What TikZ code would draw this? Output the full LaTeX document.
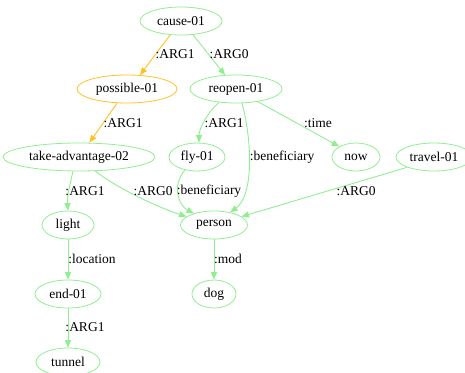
\documentclass[tikz,border=0pt]{standalone}
\usepackage{fontspec}
\setmainfont{Liberation Serif}
\usetikzlibrary{shapes.geometric,arrows.meta}
\definecolor{edgegreen}{HTML}{90EE90}
\definecolor{edgegold}{HTML}{FFC125}
\begin{document}
\begin{tikzpicture}[x=1pt,y=1pt,
  every node/.style={font=\fontsize{13.5}{16}\selectfont},
  concept/.style={ellipse,draw=edgegreen,line width=0.8pt,inner sep=0pt,minimum height=28pt},
  focus/.style={concept,draw=edgegold},
  rel/.style={draw=edgegreen,line width=0.9pt,-{Triangle[length=7.5pt,width=6pt]}},
  relgold/.style={rel,draw=edgegold},
  lbl/.style={inner sep=0pt}]
\useasboundingbox (0,0) rectangle (465,-372);

% concepts
\node[concept,minimum width=82pt]  (cause)    at (181,-21)  {cause-01};
\node[focus,minimum width=100pt]   (possible) at (127,-89)  {possible-01};
\node[concept,minimum width=92pt]  (reopen)   at (236,-89)  {reopen-01};
\node[concept,minimum width=152pt] (takeadv)  at (79,-157)  {take-advantage-02};
\node[concept,minimum width=56pt]  (fly)      at (197,-157) {fly-01};
\node[concept,minimum width=48pt]  (now)      at (356,-157) {now};
\node[concept,minimum width=76pt]  (travel)   at (434,-157) {travel-01};
\node[concept,minimum width=52pt]  (light)    at (68,-225)  {light};
\node[concept,minimum width=67pt]  (person)   at (214,-225) {person};
\node[concept,minimum width=66pt]  (end)      at (68,-294)  {end-01};
\node[concept,minimum width=44pt]  (dog)      at (214,-294) {dog};
\node[concept,minimum width=64pt]  (tunnel)   at (68,-362)  {tunnel};

% relations
\draw[relgold] (cause.232) -- (possible.47);
\draw[rel] (cause.311) -- (reopen.128);
\draw[relgold] (possible.235) -- (takeadv.54);
\draw[rel] (reopen.218) .. controls (208,-112) and (199,-128) .. (fly.82);
\draw[rel] (reopen.293) .. controls (252,-140) and (254,-195) .. (person.38);
\draw[rel] (reopen.330) -- (now.148);
\draw[rel] (takeadv.247) .. controls (70,-185) and (67,-195) .. (light.north);
\draw[rel] (takeadv.319) .. controls (120,-190) and (160,-208) .. (person.163);
\draw[rel] (fly.227) .. controls (172,-185) and (178,-205) .. (person.150);
\draw[rel] (travel.201) -- (person.17);
\draw[rel] (light.south) -- (end.north);
\draw[rel] (person.south) -- (dog.north);
\draw[rel] (end.south) -- (tunnel.north);

% relation labels
\node[lbl] (l1)  at (175,-54)  {:ARG1};
\node[lbl] (l2)  at (229,-54)  {:ARG0};
\node[lbl] (l3)  at (123,-123) {:ARG1};
\node[lbl] (l4)  at (224,-123) {:ARG1};
\node[lbl] (l5)  at (318,-123) {:time};
\node[lbl] (l6)  at (282,-157) {:beneficiary};
\node[lbl] (l7)  at (85,-191)  {:ARG1};
\node[lbl] (l8)  at (153,-191) {:ARG0};
\node[lbl] (l9)  at (209,-191) {:beneficiary};
\node[lbl] (l10) at (356,-191) {:ARG0};
\node[lbl] (l11) at (92,-259)  {:location};
\node[lbl] (l12) at (228,-259) {:mod};
\node[lbl] (l13) at (85,-327)  {:ARG1};
\end{tikzpicture}
\end{document}
